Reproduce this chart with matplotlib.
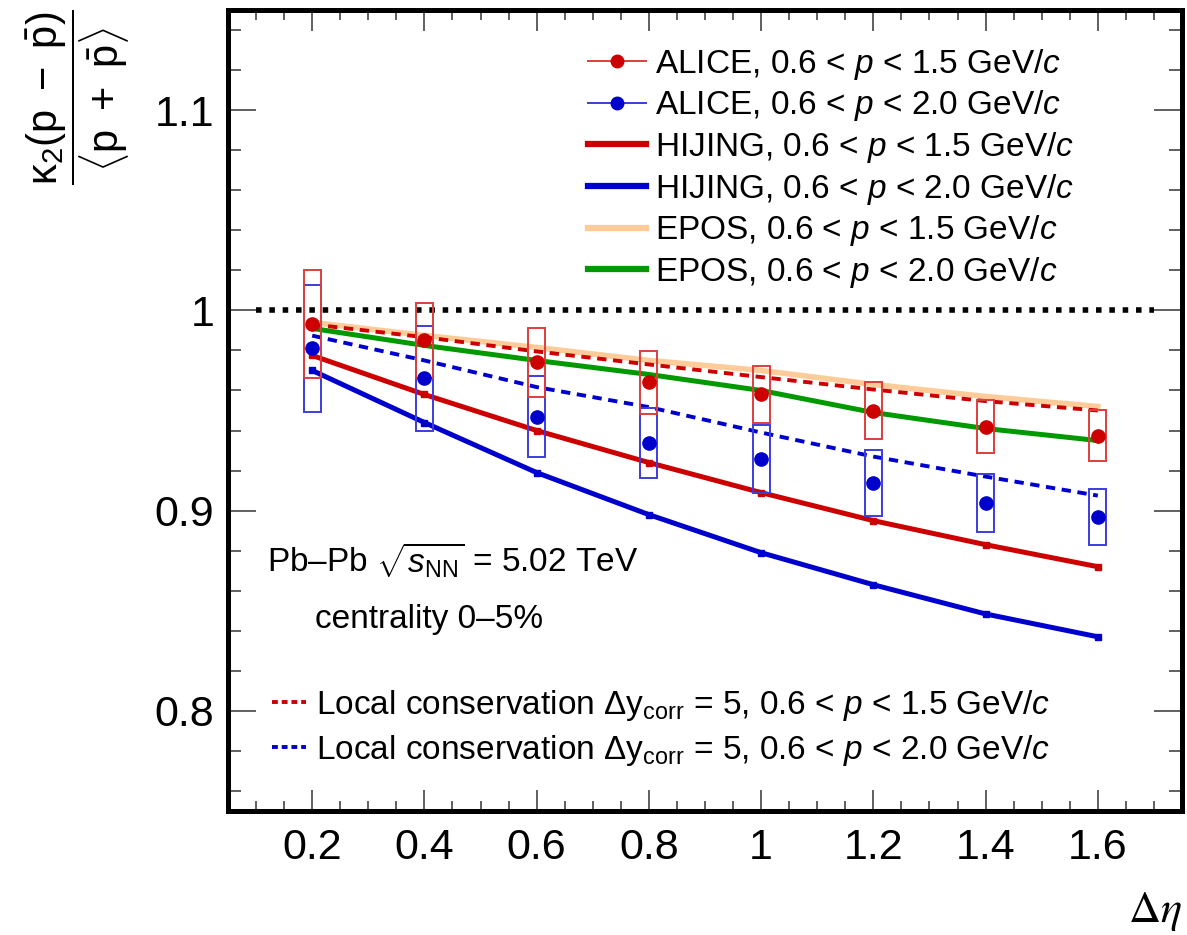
import matplotlib
matplotlib.use("Agg")
import matplotlib.pyplot as plt
from matplotlib.patches import Rectangle
from matplotlib.lines import Line2D
from matplotlib.ticker import MultipleLocator, FixedLocator, FuncFormatter

# Data
deta = [0.2, 0.4, 0.6, 0.8, 1.0, 1.2, 1.4, 1.6]

alice_15 = [0.993, 0.985, 0.974, 0.964, 0.958, 0.950, 0.942, 0.9375]
alice_15_sys = [0.027, 0.0187, 0.0173, 0.0155, 0.014, 0.014, 0.013, 0.0128]
alice_20 = [0.981, 0.966, 0.947, 0.934, 0.926, 0.914, 0.904, 0.8967]
alice_20_sys = [0.0315, 0.026, 0.020, 0.0175, 0.017, 0.0165, 0.0145, 0.014]

hijing_15 = [0.9775, 0.958, 0.940, 0.924, 0.909, 0.895, 0.883, 0.872]
hijing_20 = [0.970, 0.944, 0.919, 0.898, 0.879, 0.863, 0.8484, 0.837]
epos_15 = [0.994, 0.9875, 0.9815, 0.975, 0.970, 0.963, 0.957, 0.952]
epos_20 = [0.991, 0.9825, 0.975, 0.968, 0.960, 0.949, 0.941, 0.935]
lc_15 = [0.993, 0.9866, 0.9795, 0.973, 0.9667, 0.9605, 0.9547, 0.950]
lc_20 = [0.9874, 0.975, 0.9617, 0.9517, 0.939, 0.927, 0.917, 0.9075]

unity_x = [0.1, 1.7]
unity_y = [1.0, 1.0]

# Colours (ROOT-like)
RED = "#cc0000"
BLUE = "#0000cc"
RED_BOX = "#e03c3c"
BLUE_BOX = "#3c3ce0"
PEACH = "#ffcc99"
GREEN = "#009900"

plt.rcParams["font.family"] = ["Liberation Sans", "DejaVu Sans"]
plt.rcParams["mathtext.fontset"] = "custom"
plt.rcParams["mathtext.rm"] = "Liberation Sans"
plt.rcParams["mathtext.it"] = "Liberation Sans:italic"
plt.rcParams["mathtext.bf"] = "Liberation Sans:bold"
plt.rcParams["mathtext.sf"] = "Liberation Sans"

fig = plt.figure(figsize=(11.87, 9.35), dpi=100)
ax = fig.add_axes([0.1921, 0.1326, 0.8037, 0.8567])

ax.set_xlim(0.05, 1.75)
ax.set_ylim(0.75, 1.15)

# Reference line at unity
ax.plot(unity_x, unity_y, color="black", lw=4.0, dashes=(1.0, 1.4),
        dash_capstyle="butt", zorder=2)

# Models
ax.plot(deta, epos_15, color=PEACH, lw=4.0, zorder=3)
ax.plot(deta, epos_20, color=GREEN, lw=3.6, zorder=3)
ax.plot(deta, hijing_15, color=RED, lw=3.6, marker="s", ms=5, zorder=3)
ax.plot(deta, hijing_20, color=BLUE, lw=3.6, marker="s", ms=5, zorder=3)
ax.plot(deta, lc_15, color=RED, lw=2.8, dashes=(2.4, 1.7), zorder=4)
ax.plot(deta, lc_20, color=BLUE, lw=2.8, dashes=(2.4, 1.7), zorder=4)

# ALICE data with systematic boxes
box_w = 0.03
for x, y, s in zip(deta, alice_20, alice_20_sys):
    ax.add_patch(Rectangle((x - box_w / 2, y - s), box_w, 2 * s, fill=False,
                           edgecolor=BLUE_BOX, lw=1.4, zorder=5))
for x, y, s in zip(deta, alice_15, alice_15_sys):
    ax.add_patch(Rectangle((x - box_w / 2, y - s), box_w, 2 * s, fill=False,
                           edgecolor=RED_BOX, lw=1.4, zorder=5))
ax.plot(deta, alice_20, ls="none", marker="o", ms=9.5, color=BLUE, zorder=6)
ax.plot(deta, alice_15, ls="none", marker="o", ms=9.5, color=RED, zorder=6)

# Axes styling
for sp in ax.spines.values():
    sp.set_linewidth(3.6)
ax.xaxis.set_major_locator(MultipleLocator(0.2))
ax.xaxis.set_minor_locator(MultipleLocator(0.05))
ax.yaxis.set_major_locator(FixedLocator([0.8, 0.9, 1.0, 1.1]))
ax.yaxis.set_minor_locator(MultipleLocator(0.02))
ax.xaxis.set_major_formatter(FuncFormatter(lambda v, p: f"{v:g}"))
ax.yaxis.set_major_formatter(FuncFormatter(lambda v, p: f"{v:g}"))
ax.tick_params(axis="both", which="both", direction="in", top=True, right=True,
               color="#444444", width=1.2)
ax.tick_params(axis="x", which="major", length=15, pad=12, labelsize=31)
ax.tick_params(axis="x", which="minor", length=7)
ax.tick_params(axis="y", which="major", length=20, pad=10, labelsize=31)
ax.tick_params(axis="y", which="minor", length=9.5)

# Axis titles
ax.text(1.0, -0.098, r"$\Delta\eta$", transform=ax.transAxes, ha="right",
        va="top", fontsize=32, math_fontfamily="stix")
fig.text(0.066, 0.896,
         r"$\dfrac{\mathrm{\kappa_2(p\ -\ \bar{p})}}{\mathrm{\langle p\ +\ \bar{p}\rangle}}$",
         rotation=90, ha="center", va="center", fontsize=30)

# Annotations
ax.text(0.041, 0.313, r"Pb–Pb $\sqrt{s_{\mathrm{NN}}}$ = 5.02 TeV",
        transform=ax.transAxes, ha="left", va="center", fontsize=24)
ax.text(0.091, 0.2385, "centrality 0–5%", transform=ax.transAxes,
        ha="left", va="center", fontsize=24)


def p_range(upper):
    return "0.6 < $p$ < " + upper + " GeV/$c$"


# Upper legend
handles = [
    Line2D([0], [0], color=RED_BOX, lw=1.4, marker="o", ms=9, mfc=RED, mec=RED),
    Line2D([0], [0], color=BLUE_BOX, lw=1.4, marker="o", ms=9, mfc=BLUE, mec=BLUE),
    Line2D([0], [0], color=RED, lw=4.5),
    Line2D([0], [0], color=BLUE, lw=4.5),
    Line2D([0], [0], color=PEACH, lw=4.5),
    Line2D([0], [0], color=GREEN, lw=4.5),
]
labels = [
    "ALICE, " + p_range("1.5"),
    "ALICE, " + p_range("2.0"),
    "HIJING, " + p_range("1.5"),
    "HIJING, " + p_range("2.0"),
    "EPOS, " + p_range("1.5"),
    "EPOS, " + p_range("2.0"),
]
leg1 = ax.legend(handles, labels, loc="upper left", bbox_to_anchor=(0.36, 0.975),
                 frameon=False, fontsize=24, handlelength=1.75,
                 handletextpad=0.25, labelspacing=0.2, borderpad=0.0)
ax.add_artist(leg1)

# Lower legend
lc_handles = [
    Line2D([0], [0], color=RED, lw=2.8, dashes=(1.5, 1.0)),
    Line2D([0], [0], color=BLUE, lw=2.8, dashes=(1.5, 1.0)),
]
lc_prefix = r"Local conservation $\Delta\mathrm{y}_{\mathrm{corr}}$ = 5, "
lc_labels = [lc_prefix + p_range("1.5"), lc_prefix + p_range("2.0")]
ax.legend(lc_handles, lc_labels, loc="lower left", bbox_to_anchor=(0.029, 0.033),
          frameon=False, fontsize=24, handlelength=1.0, handletextpad=0.3,
          labelspacing=0.3, borderpad=0.0)

fig.savefig("out.png", dpi=100)
